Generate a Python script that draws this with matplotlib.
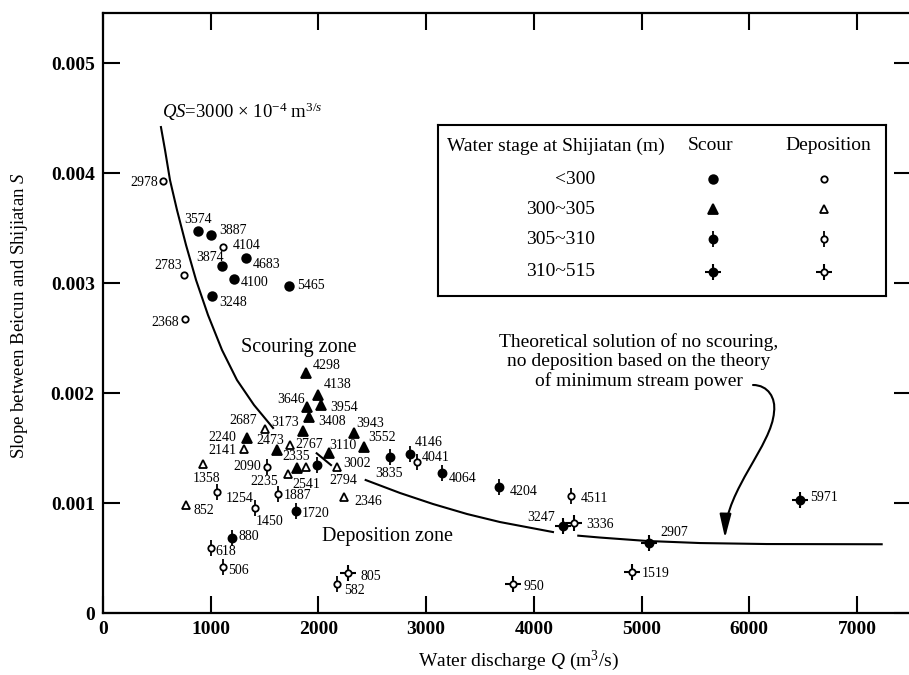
import matplotlib
matplotlib.use("Agg")
import matplotlib.pyplot as plt
from matplotlib.patches import FancyArrowPatch
from matplotlib.path import Path
import numpy as np

# ---------------- data ----------------
# stage < 300 m
lt300_scour_lab = ["3574", "3887", "3874", "4683", "4100", "5465", "3248"]
lt300_scour_q = [885, 1003, 1108, 1331, 1219, 1724, 1015]
lt300_scour_s = [0.00347, 0.00344, 0.003155, 0.003227, 0.003036, 0.002973, 0.002882]
lt300_dep_lab = ["2978", "4104", "2783", "2368"]
lt300_dep_q = [560, 1114, 752, 761]
lt300_dep_s = [0.003927, 0.00333, 0.003075, 0.002676]
# stage 300~305 m
s300_scour_lab = ["4298", "4138", "3954", "3646", "3408", "3173", "2240", "2473", "3110", "3943", "3552", "2335"]
s300_scour_q = [1882, 1999, 2021, 1891, 1916, 1854, 1334, 1613, 2101, 2331, 2423, 1798]
s300_scour_s = [0.002179, 0.001982, 0.001891, 0.00187, 0.001779, 0.001658, 0.001588, 0.001482,
                0.001452, 0.001639, 0.001506, 0.001315]
s300_dep_lab = ["2687", "2141", "2767", "1358", "852", "2235", "2541", "3002", "2346"]
s300_dep_q = [1504, 1309, 1736, 926, 771, 1718, 1885, 2176, 2241]
s300_dep_s = [0.00167, 0.001488, 0.001527, 0.001352, 0.000982, 0.001264, 0.001325, 0.00133, 0.001057]
# stage 305~310 m
s305_scour_lab = ["2794", "1720", "880", "3835", "4146", "4064", "4204"]
s305_scour_q = [1990, 1792, 1195, 2665, 2851, 3151, 3677]
s305_scour_s = [0.001345, 0.000927, 0.000679, 0.001421, 0.001443, 0.001275, 0.001148]
s305_dep_lab = ["2090", "1887", "1254", "1450", "618", "506", "4041", "4511", "582"]
s305_dep_q = [1526, 1628, 1056, 1411, 1000, 1117, 2913, 4345, 2176]
s305_dep_s = [0.00133, 0.001082, 0.001103, 0.000952, 0.000588, 0.000415, 0.00137, 0.001067, 0.000261]
# stage 310~515 m
s310_scour_lab = ["3247", "2907", "5971"]
s310_scour_q = [4274, 5073, 6472]
s310_scour_s = [0.000794, 0.000634, 0.00103]
s310_dep_lab = ["3336", "1519", "950", "805"]
s310_dep_q = [4376, 4915, 3804, 2278]
s310_dep_s = [0.000821, 0.000375, 0.000264, 0.000361]

# curve (QS line and theoretical solution), NaN = gap
curve_q = [538, 576, 622, 687, 771, 864, 975, 1105, 1244, 1402, 1579, np.nan,
           1984, 2117, np.nan,
           2439, 2758, 3064, 3380, 3686, 4178, np.nan,
           4413, 4615, 5048, 5543, 6162, 7230]
curve_s = [0.004418, 0.004209, 0.003936, 0.003664, 0.003345, 0.003027, 0.002709, 0.002391,
           0.002118, 0.001891, 0.001682, np.nan,
           0.001452, 0.001345, np.nan,
           0.001209, 0.001091, 0.000991, 0.0009, 0.000827, 0.000736, np.nan,
           0.000703, 0.000686, 0.000655, 0.000636, 0.000627, 0.000625]

x_ticks = [0, 1000, 2000, 3000, 4000, 5000, 6000, 7000]
x_tick_labels = ["0", "1000", "2000", "3000", "4000", "5000", "6000", "7000"]
y_ticks = [0, 0.001, 0.002, 0.003, 0.004, 0.005]
y_tick_labels = ["0", "0.001", "0.002", "0.003", "0.004", "0.005"]

legend_rows = ["<300", "300~305", "305~310", "310~515"]

# label offsets (pixels, x right / y down)
label_off = {
    "2978": (-19, 1), "3574": (0, -12), "3887": (22, -4), "4104": (24, -1), "3874": (-12, -8),
    "4683": (20, 6), "4100": (20, 3), "5465": (22, 0), "3248": (21, 6), "2783": (-16, -9),
    "2368": (-20, 4), "4298": (21, -8), "4138": (19, -10), "3954": (23, 2), "3646": (-16, -8),
    "3408": (23, 4), "2687": (-22, -9), "3173": (-18, -8), "2240": (-24, -1), "2141": (-21.5, 1),
    "2473": (-6, -9), "2767": (19, -1), "3110": (14, -8), "3943": (16, -9), "3552": (18, -10),
    "1358": (4, 14), "852": (18, 6), "2090": (-20, 0), "2335": (0, -12), "2235": (-24, 8),
    "2541": (0, 17), "2794": (26, 15), "3002": (20, -3), "1887": (19, 2), "1254": (23, 7),
    "1450": (15, 13), "1720": (19.5, 2), "880": (17, -2), "618": (15, 3), "506": (15, 3),
    "2346": (24, 5), "3835": (-1, 17), "4146": (18.5, -12), "4041": (19, -5), "4064": (20, 6),
    "4204": (25, 5), "4511": (23, 3), "3247": (-22.5, -8), "3336": (26, 2), "2907": (25, -11),
    "1519": (23, 2), "950": (21, 3), "805": (22, 3), "582": (17.5, 6), "5971": (24, -2),
}

# ---------------- style ----------------
plt.rcParams['font.family'] = ['Liberation Serif', 'DejaVu Serif']
plt.rcParams['mathtext.fontset'] = 'custom'
plt.rcParams['mathtext.rm'] = 'Liberation Serif'
plt.rcParams['mathtext.it'] = 'Liberation Serif:italic'
plt.rcParams['mathtext.bf'] = 'Liberation Serif:bold'

W, H = 909, 675
fig = plt.figure(figsize=(W / 100, H / 100), dpi=100)


def fp(x, y):
    return (x / W, 1 - y / H)


ax_l, ax_t = 103, 13
XMAX, YMAX = 7500, 0.005455
ax_w = XMAX * 0.1077
ax_b = 613
ax = fig.add_axes([ax_l / W, 1 - ax_b / H, ax_w / W, (ax_b - ax_t) / H])
ax.set_xlim(0, XMAX)
ax.set_ylim(0, YMAX)
for sp in ax.spines.values():
    sp.set_linewidth(1.6)
ax.set_xticks(x_ticks)
ax.set_xticklabels(x_tick_labels)
ax.set_yticks(y_ticks)
ax.set_yticklabels(y_tick_labels)
ax.tick_params(direction='in', length=12, width=1.5, top=True, right=True,
               labelsize=14, pad=6)
for lab in ax.get_xticklabels() + ax.get_yticklabels():
    lab.set_fontweight('bold')

LW = 1.3


def draw(axis, q, s, kind, filled, scale=1.0):
    fc = 'black' if filled else 'white'
    if kind == 'circle':
        axis.plot(q, s, 'o', ls='none', ms=(6.2 if filled else 4.6) * scale, mfc=fc,
                  mec='black', mew=LW, zorder=5)
    elif kind == 'tri':
        axis.plot(q, s, '^', ls='none', ms=(7.2 if filled else 5.6) * scale, mfc=fc,
                  mec='black', mew=LW, zorder=5)
    elif kind == 'stick':
        axis.plot(q, s, '|', ls='none', ms=11 * scale, mew=LW, color='black', zorder=4)
        axis.plot(q, s, 'o', ls='none', ms=(5.8 if filled else 4.6) * scale, mfc=fc,
                  mec='black', mew=LW, zorder=5)
    elif kind == 'cross':
        axis.plot(q, s, '|', ls='none', ms=11 * scale, mew=LW + 0.2, color='black', zorder=4)
        axis.plot(q, s, '_', ls='none', ms=11 * scale, mew=LW + 0.2, color='black', zorder=4)
        axis.plot(q, s, 'o', ls='none', ms=(5.8 if filled else 4.6) * scale, mfc=fc,
                  mec='black', mew=LW, zorder=5)


series = [
    (lt300_scour_q, lt300_scour_s, lt300_scour_lab, 'circle', True),
    (lt300_dep_q, lt300_dep_s, lt300_dep_lab, 'circle', False),
    (s300_scour_q, s300_scour_s, s300_scour_lab, 'tri', True),
    (s300_dep_q, s300_dep_s, s300_dep_lab, 'tri', False),
    (s305_scour_q, s305_scour_s, s305_scour_lab, 'stick', True),
    (s305_dep_q, s305_dep_s, s305_dep_lab, 'stick', False),
    (s310_scour_q, s310_scour_s, s310_scour_lab, 'cross', True),
    (s310_dep_q, s310_dep_s, s310_dep_lab, 'cross', False),
]

ax.plot(curve_q, curve_s, color='black', lw=1.5, zorder=3, solid_joinstyle='round')

for q, s, labs, kind, filled in series:
    draw(ax, q, s, kind, filled)
    for qi, si, lb in zip(q, s, labs):
        dx, dy = label_off.get(lb, (18, 0))
        ax.annotate(lb, (qi, si), xytext=(dx, -dy), textcoords='offset pixels',
                    ha='center', va='center', fontsize=10, zorder=6)

# axis labels
fig.text(*fp(518, 661), r"Water discharge $Q$ (m$^3$/s)", ha='center', va='center', fontsize=14)
fig.text(*fp(20, 316), r"Slope between Beicun and Shijiatan $S$", ha='center', va='center',
         rotation=90, fontsize=13.5)

# annotations
fig.text(*fp(162, 112), r"$QS$=3000 $\times$ 10$^{-4}$ m$^{3/s}$", ha='left', va='center', fontsize=13.5)
fig.text(*fp(299, 347), "Scouring zone", ha='center', va='center', fontsize=14.5)
fig.text(*fp(388, 537), "Deposition zone", ha='center', va='center', fontsize=14.5)
fig.text(*fp(639, 362), "Theoretical solution of no scouring,\nno deposition based on the theory\nof minimum stream power",
         ha='center', va='center', fontsize=14, linespacing=1.15)

verts = [fp(753, 385), fp(768, 385), fp(776, 398), fp(774, 412),
         fp(772, 445), fp(726, 490), fp(725, 538)]
codes = [Path.MOVETO, Path.CURVE4, Path.CURVE4, Path.CURVE4, Path.CURVE4, Path.CURVE4, Path.CURVE4]
arrow = FancyArrowPatch(path=Path(verts, codes), arrowstyle='-|>,head_length=0.9,head_width=0.22',
                        mutation_scale=16, lw=1.5, color='black', transform=fig.transFigure)
fig.patches.append(arrow)

# legend table
lx0, lx1, ly0, ly1 = 438, 886, 125, 296
lax = fig.add_axes([lx0 / W, 1 - ly1 / H, (lx1 - lx0) / W, (ly1 - ly0) / H])
lax.set_xlim(lx0, lx1)
lax.set_ylim(ly1, ly0)
lax.set_xticks([])
lax.set_yticks([])
for sp in lax.spines.values():
    sp.set_linewidth(1.5)
lax.text(447, 146, "Water stage at Shijiatan (m)", ha='left', va='center', fontsize=14)
lax.text(711, 146, "Scour", ha='center', va='center', fontsize=14)
lax.text(828, 146, "Deposition", ha='center', va='center', fontsize=14)
row_y = [179, 209, 239, 272]
kinds = ['circle', 'tri', 'stick', 'cross']
for lbl, yy, kind in zip(legend_rows, row_y, kinds):
    lax.text(595, yy, lbl, ha='right', va='center', fontsize=14)
    draw(lax, [713], [yy], kind, True)
    draw(lax, [824], [yy], kind, False)

fig.savefig("out.png", dpi=100)
